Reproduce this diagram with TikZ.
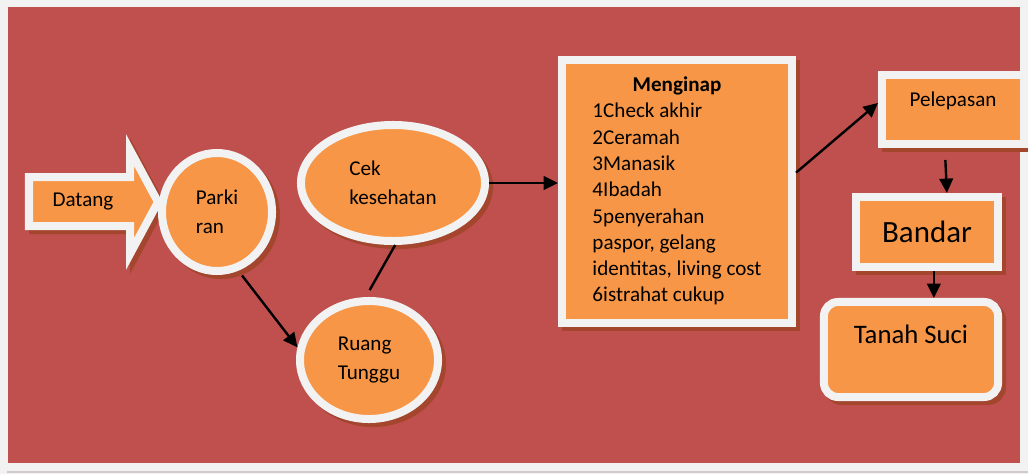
\documentclass[tikz,border=0pt]{standalone}
\usepackage{fontspec}
\setmainfont{Carlito}
\usetikzlibrary{shapes.geometric, arrows.meta}

\definecolor{pagegray}{HTML}{F2F2F2}
\definecolor{bgred}{HTML}{C0504D}
\definecolor{boxorange}{HTML}{F79646}
\definecolor{shadowred}{HTML}{A4452E}
\definecolor{linegray}{HTML}{D3C9C9}

\tikzset{
    stage/.style={draw=pagegray, fill=boxorange, line width=0.2cm, inner sep=0pt,
        preaction={draw=shadowred, fill=shadowred, line width=0.2cm,
            transform canvas={shift={(0.1cm,-0.1cm)}}}},
    oval/.style={stage, ellipse, align=left, font=\fontsize{15}{20.5}\selectfont},
    flow/.style={-{Triangle[length=0.36cm, width=0.34cm]}, line width=0.06cm}
}

\begin{document}
\begin{tikzpicture}[x=0.025cm, y=-0.025cm]
        % Background
        \fill[pagegray] (0,0) rectangle (1028,474);
        \useasboundingbox (0,0) rectangle (1028,474);
        \fill[bgred] (8,7) rectangle (1020,463);
        \draw[linegray, line width=0.05cm] (7,472) -- (1028,472);

        % Arrow shape
        \draw[stage, line join=miter] (29,177) -- (130,177) -- (130,150) -- (158,202)
            -- (130,254) -- (130,226) -- (29,226) -- cycle;

        % Nodes
        \node (datang) [font=\fontsize{15}{18}\selectfont] at (83,202) {Datang};
        \node (parkiran) [oval, minimum width=2.75cm, minimum height=2.95cm] at (217,212) {Parki\\ran};
        \node (cek) [oval, minimum width=4.6cm, minimum height=2.9cm] at (393,183) {Cek\\kesehatan};
        \node (ruang) [oval, minimum width=3.45cm, minimum height=2.95cm] at (369,360) {Ruang\\Tunggu};
        \node (menginap) [stage, rectangle, minimum width=5.75cm, minimum height=6.575cm,
            font=\fontsize{15}{18.7}\selectfont] at (677,191.5)
            {\begin{tabular}{@{}l@{}}
             \multicolumn{1}{@{}c@{}}{\textbf{Menginap}}\\
             1Check akhir\\
             2Ceramah\\
             3Manasik\\
             4Ibadah\\
             5penyerahan\\
             paspor, gelang\\
             identitas, living cost\\
             6istrahat cukup
             \end{tabular}};
        \node (pelepasan) [stage, rectangle, minimum width=3.55cm, minimum height=1.725cm,
            font=\fontsize{15}{18}\selectfont, text height=0.3cm, text depth=0.45cm] at (953,109.5) {Pelepasan};
        \node (bandar) [stage, rectangle, minimum width=3.55cm, minimum height=1.75cm,
            font=\fontsize{22}{26}\selectfont] at (927,232) {Bandar};
        \node (tanah) [stage, rectangle, rounded corners=0.35cm, minimum width=4.35cm, minimum height=2.375cm,
            font=\fontsize{19}{23}\selectfont, text height=0.45cm, text depth=0.75cm] at (911,349.5) {Tanah Suci};

        % Edges
        \draw[flow] (cek.east) -- (cek.east -| menginap.west);
        \draw[flow, shorten <=0.15cm] (parkiran.-70) -- (ruang.170);
        \draw[line width=0.06cm, shorten <=0.2cm] (ruang.93) -- (cek.-88);
        \draw[flow] (menginap.9) -- (pelepasan.175);
        \draw[flow, shorten <=0.3cm] (pelepasan.258) -- (bandar.63);
        \draw[flow] (bandar.-80) -- (bandar.-80 |- tanah.north);
    \end{tikzpicture}
\end{document}
